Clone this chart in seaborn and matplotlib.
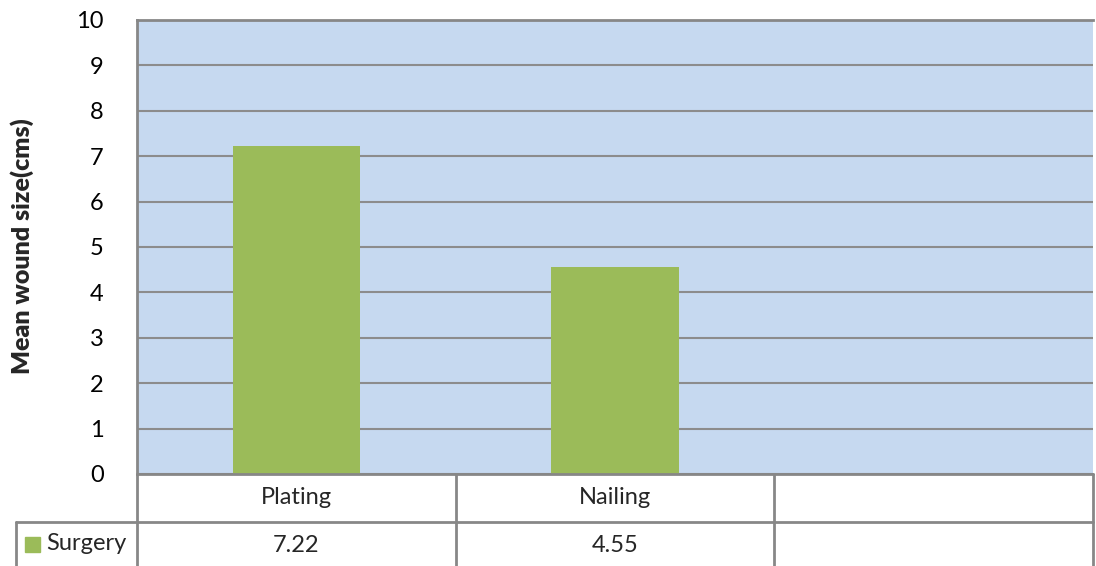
import matplotlib
matplotlib.use("Agg")
import matplotlib.pyplot as plt
import seaborn as sns
import pandas as pd
import numpy as np
from matplotlib.lines import Line2D
from matplotlib.patches import Rectangle

categories = ["Plating", "Nailing", ""]
values = [7.22, 4.55, np.nan]
series_name = "Surgery"
table_labels = ["7.22", "4.55", ""]
y_ticks = list(range(0, 11))
y_label = "Mean wound size(cms)"

W, H = 1096, 566
sns.set_theme(style="white")
plt.rcParams['font.family'] = ['Lato', 'DejaVu Sans']

fig = plt.figure(figsize=(W / 100, H / 100), dpi=100)
L, R, T, B = 137, 1093, 20, 474
ax = fig.add_axes([L / W, 1 - B / H, (R - L) / W, (B - T) / H])
ax.set_facecolor("#c6d9f0")

df = pd.DataFrame({"cat": categories, "val": values})
sns.barplot(data=df, x="cat", y="val", order=categories, color="#9bbb59",
            saturation=1, width=0.4, ax=ax, zorder=3, linewidth=0, edgecolor="none")
ax.set_xlim(-0.5, len(categories) - 0.5)
ax.set_ylim(0, 10)
ax.set_yticks(y_ticks)
ax.set_yticklabels([str(t) for t in y_ticks], fontsize=17, color="black")
ax.tick_params(axis="y", length=0, pad=24)
ax.set_xticks([])
ax.set_xlabel("")
ax.set_ylabel("")
ax.yaxis.grid(True, color="#8c8c8c", linewidth=1.5, zorder=1)
ax.set_axisbelow(True)
for s in ["right", "bottom"]:
    ax.spines[s].set_visible(False)
for s in ["top", "left"]:
    ax.spines[s].set_color("#878787")
    ax.spines[s].set_linewidth(2)

def fx(px):
    return px / W

def fy(py):
    return 1 - py / H

fig.text(fx(22), fy(246), y_label, rotation=90, ha="center", va="center",
         fontsize=18, fontweight="heavy")

lc = "#878787"
def hline(x0, x1, y):
    fig.add_artist(Line2D([fx(x0), fx(x1)], [fy(y), fy(y)], color=lc, lw=2, transform=fig.transFigure))

def vline(x, y0, y1):
    fig.add_artist(Line2D([fx(x), fx(x)], [fy(y0), fy(y1)], color=lc, lw=2, transform=fig.transFigure))

hline(L, R, B)
hline(16, R, 522)
vline(L, B, H)
col_w = (R - L) / len(categories)
for i in range(1, len(categories) + 1):
    vline(L + i * col_w, B, H)
vline(16, 522, H)

for i, c in enumerate(categories):
    cx = L + (i + 0.5) * col_w
    fig.text(fx(cx), fy(497), c, ha="center", va="center", fontsize=17)
    fig.text(fx(cx), fy(545), table_labels[i], ha="center", va="center", fontsize=17)

fig.add_artist(Rectangle((fx(25), fy(552)), 15 / W, 15 / H, color="#9bbb59", transform=fig.transFigure))
fig.text(fx(46), fy(544), series_name, ha="left", va="center", fontsize=17)

fig.savefig("out.png", dpi=100)
